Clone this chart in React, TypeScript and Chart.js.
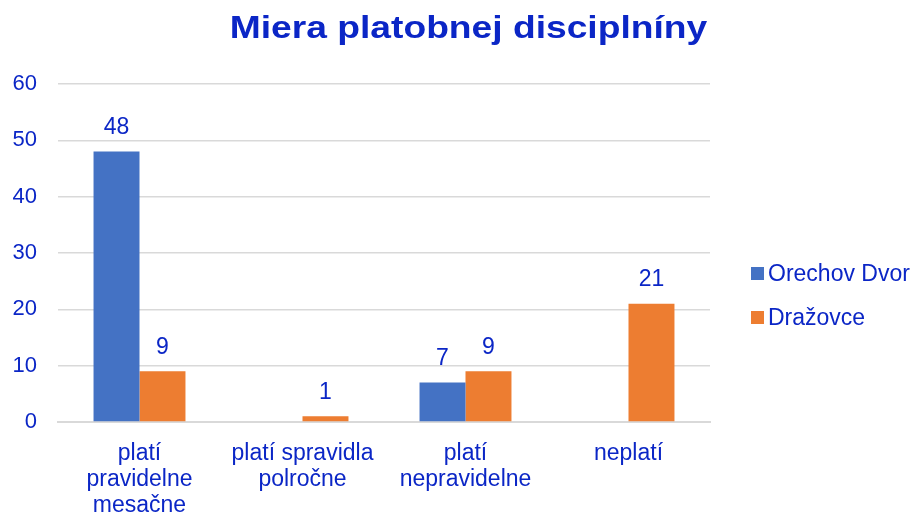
import React, { useEffect, useRef } from "react";
import { Chart, registerables } from "chart.js";
Chart.register(...registerables);

const titleText = "Miera platobnej disciplníny";
const categories: string[][] = [
  ["platí", "pravidelne", "mesačne"],
  ["platí spravidla", "polročne"],
  ["platí", "nepravidelne"],
  ["neplatí"],
];
const seriesNames = ["Orechov Dvor", "Dražovce"];
const orechovDvor: (number | null)[] = [48, null, 7, null];
const drazovce: (number | null)[] = [9, 1, 9, 21];
const yTicks = [0, 10, 20, 30, 40, 50, 60];

const TEXT = "#0b26c6";
const COLORS = ["#4472C4", "#ED7D31"];
const FONT = "'Liberation Sans', Arial, sans-serif";

const valueLabels = {
  id: "valueLabels",
  afterDatasetsDraw(chart: any) {
    const ctx = chart.ctx;
    ctx.save();
    ctx.fillStyle = TEXT;
    ctx.font = `23px ${FONT}`;
    ctx.textAlign = "center";
    ctx.textBaseline = "middle";
    chart.data.datasets.forEach((ds: any, i: number) => {
      const meta = chart.getDatasetMeta(i);
      meta.data.forEach((el: any, j: number) => {
        const v = ds.data[j];
        if (v === null || v === undefined) return;
        ctx.fillText(String(v), el.x, el.y - 24);
      });
    });
    ctx.restore();
  },
};

const titleAndLegend = {
  id: "titleAndLegend",
  afterDraw(chart: any) {
    const ctx = chart.ctx;
    const area = chart.chartArea;
    ctx.save();
    // title
    ctx.fillStyle = TEXT;
    ctx.font = `bold 31px ${FONT}`;
    ctx.textAlign = "center";
    ctx.textBaseline = "alphabetic";
    ctx.translate(chart.width / 2 + 10, 38);
    ctx.scale(1.2, 1);
    ctx.fillText(titleText, 0, 0);
    ctx.restore();

    // legend
    ctx.save();
    ctx.font = `23px ${FONT}`;
    ctx.textAlign = "left";
    ctx.textBaseline = "middle";
    const x = area.right + 41;
    chart.data.datasets.forEach((ds: any, i: number) => {
      const cy = area.top + 189.5 + i * 44;
      ctx.fillStyle = ds.backgroundColor;
      ctx.fillRect(x, cy - 6.5, 13, 13);
      ctx.fillStyle = TEXT;
      ctx.fillText(ds.label, x + 17, cy + 1);
    });
    ctx.restore();
  },
};

export default function App() {
  const ref = useRef<HTMLCanvasElement | null>(null);
  useEffect(() => {
    if (!ref.current) return;
    const chart = new Chart(ref.current, {
      type: "bar",
      data: {
        labels: categories,
        datasets: [
          { label: seriesNames[0], data: orechovDvor, backgroundColor: COLORS[0] },
          { label: seriesNames[1], data: drazovce, backgroundColor: COLORS[1] },
        ],
      },
      options: {
        animation: false,
        responsive: false,
        maintainAspectRatio: false,
        layout: { padding: { left: 0, right: 207, top: 84, bottom: 0 } },
        datasets: { bar: { barPercentage: 1, categoryPercentage: 0.564 } },
        plugins: {
          title: { display: false },
          legend: { display: false },
          tooltip: { enabled: false },
        },
        scales: {
          x: {
            afterFit: (scale: any) => {
              scale.height = 94;
            },
            grid: { display: false, drawTicks: false },
            border: { color: "#d9d9d9", width: 2 },
            ticks: {
              color: TEXT,
              font: { family: FONT, size: 23, lineHeight: 1.15 },
              maxRotation: 0,
              autoSkip: false,
              padding: 18,
            },
          },
          y: {
            min: 0,
            max: 60,
            afterBuildTicks: (scale: any) => {
              scale.ticks = yTicks.map((v) => ({ value: v }));
            },
            afterFit: (scale: any) => {
              scale.width = 58;
            },
            grid: { color: "#d9d9d9", lineWidth: 1.5, drawTicks: false },
            border: { display: false },
            ticks: {
              color: TEXT,
              font: { family: FONT, size: 22 },
              padding: 21,
            },
          },
        },
      },
      plugins: [valueLabels, titleAndLegend],
    });
    return () => chart.destroy();
  }, []);
  return (
    <div style={{ position: "absolute", left: 0, top: 0, width: 917, height: 516, background: "#fff" }}>
      <canvas ref={ref} width={917} height={516} />
    </div>
  );
}
